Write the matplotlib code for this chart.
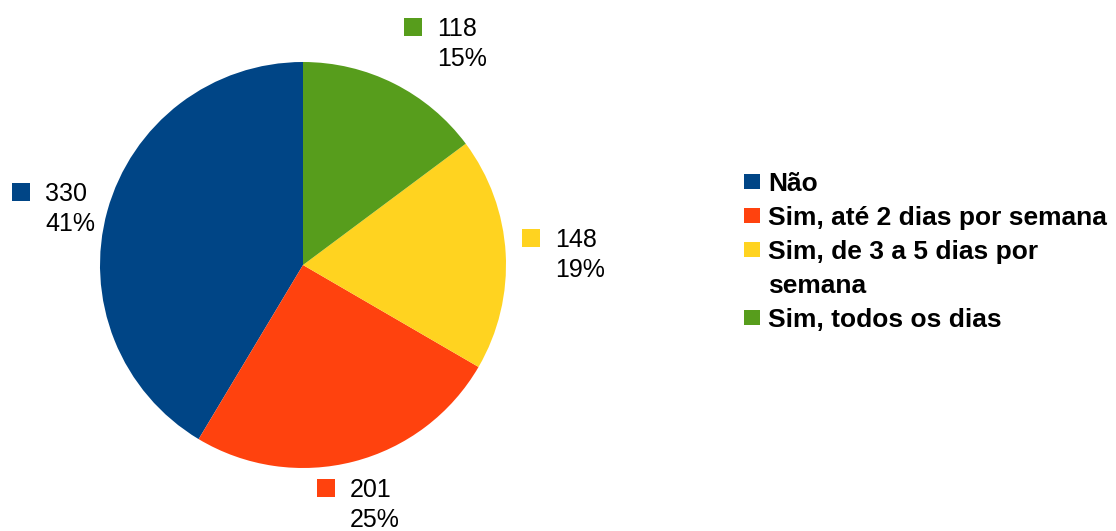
import matplotlib
matplotlib.use("Agg")
import matplotlib.pyplot as plt
from matplotlib.patches import Rectangle

plt.rcParams['font.family'] = ['Liberation Sans', 'DejaVu Sans']

categories = ["Não", "Sim, até 2 dias por semana", "Sim, de 3 a 5 dias por\nsemana", "Sim, todos os dias"]
values = [330, 201, 148, 118]
colors = ["#004586", "#ff420e", "#ffd320", "#579d1c"]

W, H = 1116, 531
fig = plt.figure(figsize=(W / 100, H / 100), dpi=100)

def fx(x):
    return x / W

def fy(y):
    return 1 - y / H

# pie axes: centre (303, 265), radius 203 px
cx, cy, r = 303, 265, 203
ax = fig.add_axes([fx(cx - r), fy(cy + r), 2 * r / W, 2 * r / H])
ax.pie(values, colors=colors, startangle=90, counterclock=True,
       wedgeprops=dict(linewidth=0))
ax.set_aspect('equal')
ax.set_xlim(-1, 1)
ax.set_ylim(-1, 1)
ax.axis('off')

total = sum(values)

# value labels: (square left, square top) in px
label_pos = [(12, 183), (317, 479), (522, 229), (404, 18)]
sq = 18
for (sx, sy), v, c in zip(label_pos, values, colors):
    fig.patches.append(Rectangle((fx(sx), fy(sy + sq)), sq / W, sq / H,
                                 transform=fig.transFigure, color=c, lw=0))
    tx = sx + sq + 15
    base = sy + sq
    fig.text(fx(tx), fy(base), f"{v}", fontsize=18, color="#000000",
             ha="left", va="baseline")
    fig.text(fx(tx), fy(base + 30), f"{round(100 * v / total):d}%", fontsize=18,
             color="#000000", ha="left", va="baseline")

# legend
leg_w, leg_h = 16, 15
leg_x = 744
text_x = 768
line_step = 34
baseline = 191
for cat, c in zip(categories, colors):
    lines = cat.split("\n")
    fig.patches.append(Rectangle((fx(leg_x), fy(baseline - 2)), leg_w / W, leg_h / H,
                                 transform=fig.transFigure, color=c, lw=0))
    for ln in lines:
        fig.text(fx(text_x), fy(baseline), ln, fontsize=19, fontweight="bold",
                 color="#000000", ha="left", va="baseline")
        baseline += line_step

fig.savefig("out.png", dpi=100, facecolor="white")
